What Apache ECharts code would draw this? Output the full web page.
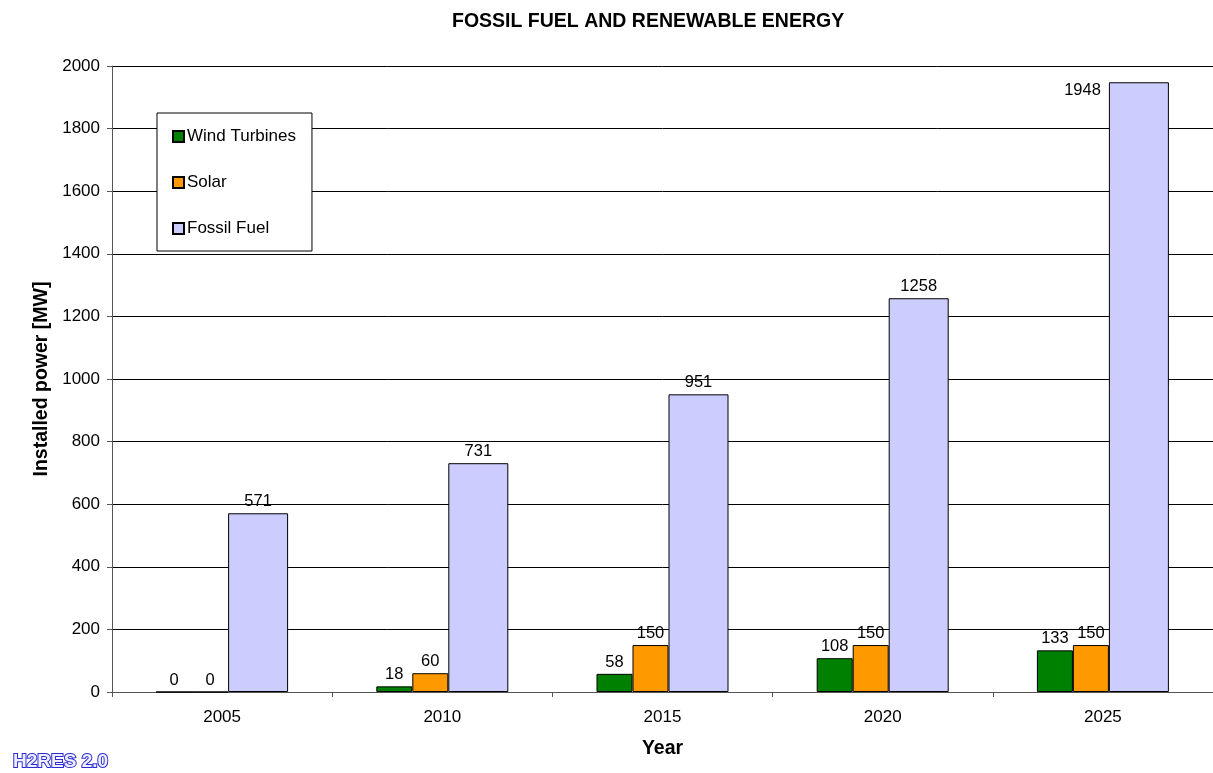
<!DOCTYPE html>
<html>
<head>
<meta charset="utf-8">
<script src="https://cdn.jsdelivr.net/npm/echarts@6/dist/echarts.min.js"></script>
<style>
  html, body { margin: 0; padding: 0; background: #fff; }
  #chart { width: 1213px; height: 773px; }
</style>
</head>
<body>
<div id="chart"></div>
<script>
var years = ['2005', '2010', '2015', '2020', '2025']
var windTurbines = [0, 18, 58, 108, 133]
var solar = [0, 60, 150, 150, 150]
var fossilFuel = [571, 731, 951, 1258, 1948]

var chart = echarts.init(document.getElementById('chart'))
var font = 'Liberation Sans, Arial, sans-serif'

var label = {
  show: true,
  position: 'top',
  distance: 3,
  color: '#000',
  fontFamily: font,
  fontSize: 16.5
}

// the tallest bar carries its label at its left side
var fossilData = fossilFuel.map(function(v, i) {
  if (i === fossilFuel.length - 1) {
    return {value: v, label: {position: [-8, 8], align: 'right', verticalAlign: 'middle'}}
  }
  return v
})

var option = {
  backgroundColor: '#fff',
  animation: false,
  title: {
    text: 'FOSSIL FUEL AND RENEWABLE ENERGY',
    left: 447,
    top: 7,
    textStyle: {fontFamily: font, fontSize: 19.5, fontWeight: 'bold', color: '#000'}
  },
  legend: {
    orient: 'vertical',
    left: 157,
    top: 113,
    padding: [15, 16, 14, 15],
    itemGap: 29,
    itemWidth: 11,
    itemHeight: 11,
    icon: 'rect',
    backgroundColor: '#fff',
    borderColor: '#000',
    borderWidth: 1,
    textStyle: {fontFamily: font, fontSize: 17, color: '#000', padding: [0, 0, 0, -2]},
    data: ['Wind Turbines', 'Solar', 'Fossil Fuel']
  },
  graphic: [{
    type: 'text',
    left: 12,
    top: 751,
    style: {
      text: 'H2RES 2.0',
      fontFamily: 'Liberation Sans, Arial, sans-serif',
      fontSize: 19,
      fontWeight: 'bold',
      fill: '#eeeeff',
      stroke: '#2b2bd6',
      lineWidth: 2,
      textShadowColor: '#9a9af2',
      textShadowOffsetX: 2,
      textShadowOffsetY: 2,
      textShadowBlur: 0
    }
  }],
  grid: {left: 112, top: 66, right: -4, bottom: 81, containLabel: false},
  xAxis: {
    type: 'category',
    data: years,
    name: 'Year',
    nameLocation: 'middle',
    nameGap: 47,
    nameTextStyle: {fontFamily: font, fontSize: 19.5, fontWeight: 'bold', color: '#000'},
    axisLine: {lineStyle: {color: '#555', width: 1}},
    axisTick: {show: true, alignWithLabel: false, length: 5, lineStyle: {color: '#555'}},
    axisLabel: {margin: 17, fontFamily: font, fontSize: 17, color: '#000'}
  },
  yAxis: {
    type: 'value',
    min: 0,
    max: 2000,
    interval: 200,
    name: 'Installed power [MW]',
    nameLocation: 'middle',
    nameGap: 60,
    nameTextStyle: {fontFamily: font, fontSize: 19.5, fontWeight: 'bold', color: '#000'},
    axisLine: {show: true, lineStyle: {color: '#555', width: 1}},
    axisTick: {show: true, length: 5, lineStyle: {color: '#555'}},
    axisLabel: {
      margin: 12, fontFamily: font, fontSize: 17, color: '#000',
      formatter: function(v) { return String(v) }
    },
    splitLine: {show: true, lineStyle: {color: '#000', width: 1}}
  },
  series: [
    {
      name: 'Wind Turbines',
      type: 'bar',
      barWidth: 36,
      barGap: '0%',
      data: windTurbines,
      itemStyle: {color: '#008000', borderColor: '#000', borderWidth: 1},
      label: label
    },
    {
      name: 'Solar',
      type: 'bar',
      barWidth: 36,
      barGap: '0%',
      data: solar,
      itemStyle: {color: '#FF9900', borderColor: '#000', borderWidth: 1},
      label: label
    },
    {
      name: 'Fossil Fuel',
      type: 'bar',
      barWidth: 60,
      barGap: '0%',
      data: fossilData,
      itemStyle: {color: '#CCCCFF', borderColor: '#000', borderWidth: 1},
      label: label
    }
  ]
}

chart.setOption(option)
</script>
</body>
</html>
